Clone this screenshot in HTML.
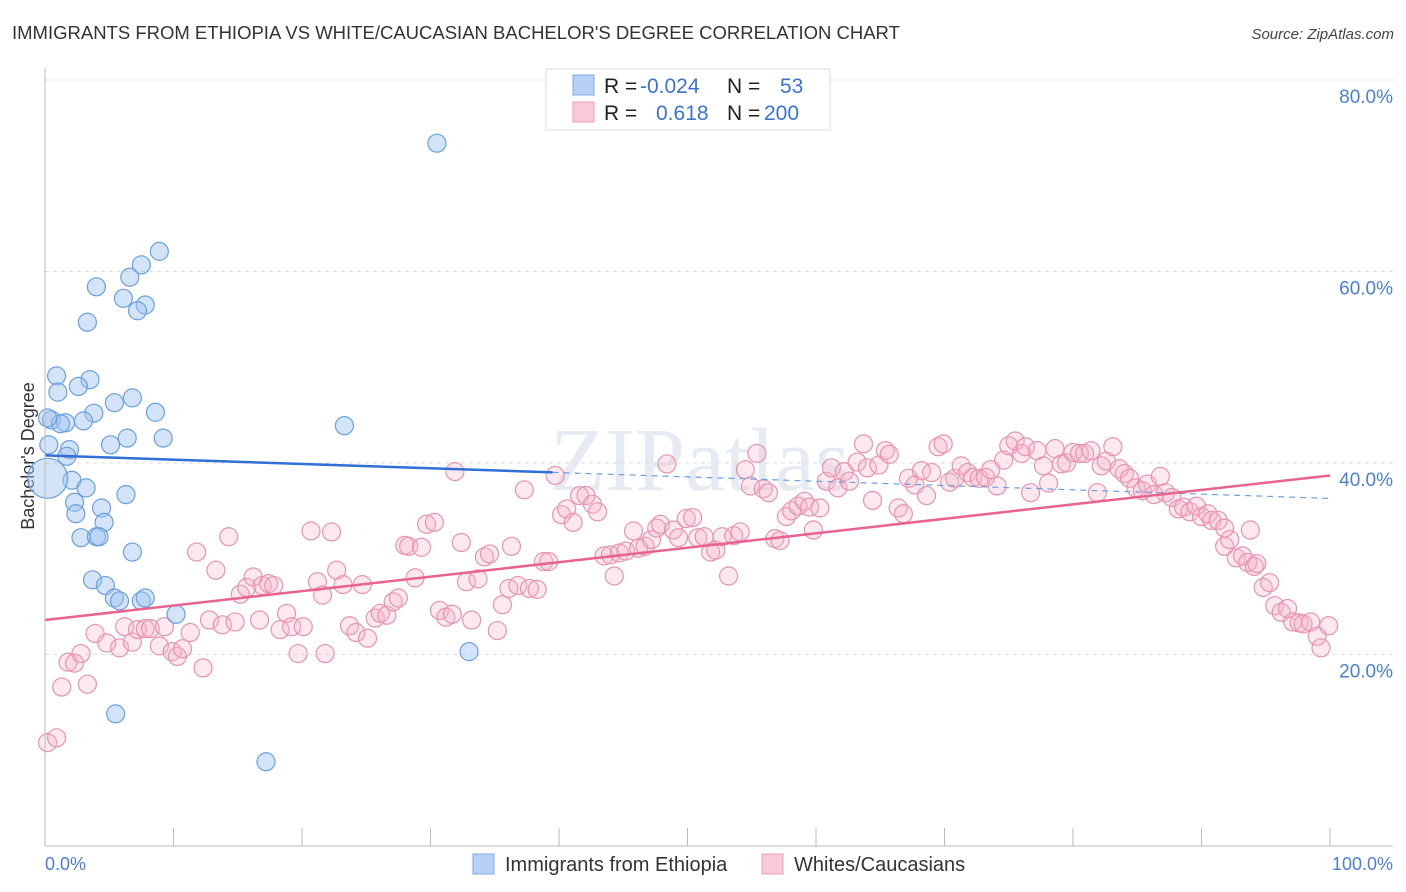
<!DOCTYPE html>
<html><head><meta charset="utf-8">
<style>
body{margin:0;background:#fff;font-family:"Liberation Sans",sans-serif;}
#wrap{position:relative;width:1406px;height:892px;overflow:hidden;}
</style></head>
<body><div id="wrap">
<svg id="svg" width="1406" height="892">
<text x="12" y="39" font-size="18.5" fill="#333">IMMIGRANTS FROM ETHIOPIA VS WHITE/CAUCASIAN BACHELOR'S DEGREE CORRELATION CHART</text>
<text x="1394" y="39" font-size="15" fill="#444" text-anchor="end" font-style="italic">Source: ZipAtlas.com</text>
<text x="0" y="0" transform="translate(34,456) rotate(-90)" font-size="18" fill="#333" text-anchor="middle">Bachelor's Degree</text>
<text x="700" y="490" font-size="90" fill="#e6ebf3" text-anchor="middle" font-family="Liberation Serif,serif">ZIPatlas</text>
<g id="grid"></g><g id="pts"></g><g id="lines"></g>
<line x1="45" y1="68" x2="45" y2="846" stroke="#bbb"/>
<line x1="45" y1="846" x2="1393" y2="846" stroke="#bbb"/>
<text x="45" y="870" font-size="18" fill="#4a7fd4">0.0%</text>
<text x="1393" y="870" font-size="18" fill="#4a7fd4" text-anchor="end">100.0%</text>
<g>
<rect x="546" y="69" width="284" height="61" fill="#fff" stroke="#ddd"/>
<rect x="573" y="75" width="21" height="20" fill="#b7d0f5" stroke="#7fa8e6"/>
<rect x="573" y="102" width="21" height="20" fill="#f9c9d7" stroke="#eea0b8"/>
<text y="93" font-size="21"><tspan x="604" fill="#222">R = </tspan><tspan x="640" fill="#3b73d2">-0.024</tspan><tspan x="727" fill="#222">N = </tspan><tspan x="780" fill="#3b73d2">53</tspan></text>
<text y="120" font-size="21"><tspan x="604" fill="#222">R = </tspan><tspan x="656" fill="#3b73d2">0.618</tspan><tspan x="727" fill="#222">N = </tspan><tspan x="764" fill="#3b73d2">200</tspan></text>
</g>
<g>
<rect x="473" y="854" width="21" height="20" fill="#b7d0f5" stroke="#7fa8e6"/>
<text x="505" y="871" font-size="20" fill="#333">Immigrants from Ethiopia</text>
<rect x="762" y="854" width="21" height="20" fill="#f9c9d7" stroke="#eea0b8"/>
<text x="794" y="871" font-size="20" fill="#333">Whites/Caucasians</text>
</g>
</svg></div>
<script>
const yTicks=[20,40,60,80];
const xTickVals=[10,20,30,40,50,60,70,80,90,100];
const blueX=[30.5,8.9,7.5,6.6,4.0,6.1,7.8,7.2,3.3,0.9,3.5,2.6,1.0,6.8,5.4,3.8,8.6,0.5,3.0,1.6,1.2,9.2,6.4,5.1,23.3,1.9,1.7,2.1,3.2,6.3,2.3,4.4,2.4,4.6,2.8,4.0,4.2,6.8,3.7,4.7,5.4,5.8,7.5,7.8,10.2,33.0,5.5,17.2,0.2,0.2,0.3];
const blueY=[73.4,62.1,60.7,59.4,58.4,57.2,56.5,55.9,54.7,49.1,48.7,48.0,47.4,46.8,46.3,45.2,45.3,44.5,44.4,44.2,44.1,42.6,42.6,41.9,43.9,41.4,40.7,38.2,37.4,36.7,35.9,35.3,34.7,33.8,32.2,32.3,32.3,30.7,27.8,27.2,25.9,25.6,25.6,25.9,24.2,20.3,13.8,8.8,38.4,44.7,41.9];
const pinkX=[0.2,0.9,1.3,3.3,1.8,2.3,2.8,3.9,4.8,5.8,6.2,6.8,7.2,7.8,8.2,8.9,9.3,9.9,10.3,10.7,11.3,11.8,12.3,12.8,13.3,13.8,14.3,14.8,15.2,15.7,16.2,16.7,16.9,17.4,17.8,18.3,18.8,19.2,19.7,20.1,20.7,21.2,21.6,21.8,22.3,22.7,23.2,23.7,24.2,24.7,25.1,25.7,26.1,26.6,27.1,27.5,28.0,28.3,28.8,29.3,29.7,30.3,30.7,31.2,31.7,31.9,32.4,32.8,33.2,33.7,34.2,34.6,35.2,35.6,36.1,36.3,36.8,37.3,37.7,38.3,38.8,39.2,39.7,40.2,40.6,41.1,41.6,42.1,42.6,43.0,43.5,44.0,44.3,44.7,45.2,45.8,46.2,46.7,47.2,47.6,47.9,48.4,48.9,49.3,49.9,50.4,50.8,51.3,51.8,52.2,52.7,53.2,53.6,54.1,54.5,54.9,55.4,55.9,56.3,56.8,57.2,57.7,58.1,58.6,59.1,59.5,59.8,60.3,60.8,61.2,61.7,62.2,62.6,63.2,63.7,64.0,64.4,64.9,65.4,65.7,66.4,66.8,67.2,67.7,68.2,68.6,69.0,69.5,69.9,70.4,70.8,71.3,71.8,72.2,72.7,73.2,73.6,74.1,74.6,75.0,75.5,76.0,76.3,76.7,77.2,77.7,78.1,78.6,79.1,79.5,80.0,80.5,80.9,81.4,81.9,82.2,82.6,83.1,83.6,84.0,84.4,84.9,85.4,85.8,86.3,86.8,87.2,87.7,88.2,88.6,89.1,89.6,90.0,90.5,90.8,91.3,91.8,92.2,92.7,93.2,93.6,94.1,94.3,94.8,95.3,95.7,96.2,96.7,97.1,97.6,97.9,98.5,99.0,99.3,99.9,91.8,93.8];
const pinkY=[10.8,11.3,16.6,16.9,19.2,19.1,20.1,22.2,21.2,20.7,22.9,21.3,22.6,22.7,22.7,20.9,22.9,20.3,19.8,20.6,22.3,30.7,18.6,23.6,28.8,23.1,32.3,23.4,26.3,27.0,28.1,23.6,27.2,27.4,27.2,22.6,24.3,22.9,20.1,22.9,32.9,27.6,26.2,20.1,32.8,28.8,27.3,23.0,22.3,27.3,21.7,23.8,24.3,24.1,25.5,25.9,31.4,31.3,28.0,31.2,33.6,33.8,24.6,23.9,24.2,39.1,31.7,27.6,23.6,27.9,30.2,30.5,22.5,25.2,26.9,31.3,27.2,37.2,26.9,26.8,29.7,29.7,38.7,34.6,35.2,33.8,36.6,36.6,35.7,34.9,30.3,30.4,28.2,30.6,30.8,32.9,31.1,31.3,32.0,33.2,33.6,39.9,33.0,32.2,34.2,34.3,32.2,32.3,30.7,30.9,32.3,28.2,32.4,32.8,39.3,37.6,41.0,37.3,36.9,32.1,31.9,34.4,35.0,35.5,36.0,35.4,33.0,35.3,38.1,39.5,37.4,39.1,38.1,40.1,42.0,39.5,36.1,39.8,41.3,40.9,35.3,34.7,38.4,37.7,39.2,36.6,39.0,41.7,42.0,38.0,38.4,39.7,39.0,38.5,38.4,38.5,39.3,37.6,40.3,41.8,42.3,41.0,41.7,36.9,41.3,39.7,37.9,41.5,39.9,40.0,41.1,41.0,41.0,41.3,36.9,39.7,40.2,41.7,39.4,38.9,38.4,37.4,37.1,37.8,36.7,38.6,36.9,36.4,35.2,35.4,34.9,35.5,34.4,34.7,34.0,34.0,31.3,32.0,30.1,30.3,29.6,29.2,29.5,27.0,27.5,25.1,24.4,24.8,23.4,23.3,23.2,23.4,21.9,20.7,23.0,33.2,33.0];
const blueTrend=[40.8,36.3];
const pinkTrend=[23.6,38.7];
const blueSolidEnd=39.5;

const NS='http://www.w3.org/2000/svg';
function sx(v){return 45+v*12.85;}
function sy(v){return 846-v*9.575;}
function mk(tag,attrs,parent){const e=document.createElementNS(NS,tag);for(const k in attrs)e.setAttribute(k,attrs[k]);parent.appendChild(e);return e;}
const grid=document.getElementById('grid'),pts=document.getElementById('pts'),lines=document.getElementById('lines');
yTicks.forEach(t=>{
 const l=mk('line',{x1:45,x2:1393,y1:sy(t),y2:sy(t),stroke:'#ddd','stroke-dasharray':'4,4'},grid);
 
 
 const tx=mk('text',{x:1393,y:sy(t)+23,'font-size':19,fill:'#4a7fd4','text-anchor':'end'},grid);
 tx.textContent=t.toFixed(1)+'%';
 
 
});
xTickVals.forEach(t=>{
 const l=mk('line',{x1:sx(t),x2:sx(t),y1:828,y2:846,stroke:'#bbb'},grid);
 
 
});
pinkX.forEach((x,i)=>{
 const c=mk('circle',{cx:sx(x),cy:sy(pinkY[i]),r:9,fill:'rgba(246,178,200,0.3)',stroke:'#e893b0','stroke-width':1.2},pts);
 
 
});
blueX.forEach((x,i)=>{
 const r=(i==48)?20:9;
 const c=mk('circle',{cx:sx(x),cy:sy(blueY[i]),r:r,fill:'rgba(160,196,240,0.45)',stroke:'#6a9fe0','stroke-width':1.2},pts);
 
 
});
function ty(tr,x){return tr[0]+(tr[1]-tr[0])*x/100;}
let l1=mk('line',{x1:sx(0),y1:sy(ty(blueTrend,0)),x2:sx(blueSolidEnd),y2:sy(ty(blueTrend,blueSolidEnd)),stroke:'#2f6fd6','stroke-width':2.5},lines);


let l2=mk('line',{x1:sx(blueSolidEnd),y1:sy(ty(blueTrend,blueSolidEnd)),x2:sx(100),y2:sy(ty(blueTrend,100)),stroke:'#6a9fe0','stroke-width':1.2,'stroke-dasharray':'6,5'},lines);


let l3=mk('line',{x1:sx(0),y1:sy(ty(pinkTrend,0)),x2:sx(100),y2:sy(ty(pinkTrend,100)),stroke:'#e8638f','stroke-width':2.5},lines);


</script>
</body></html>
